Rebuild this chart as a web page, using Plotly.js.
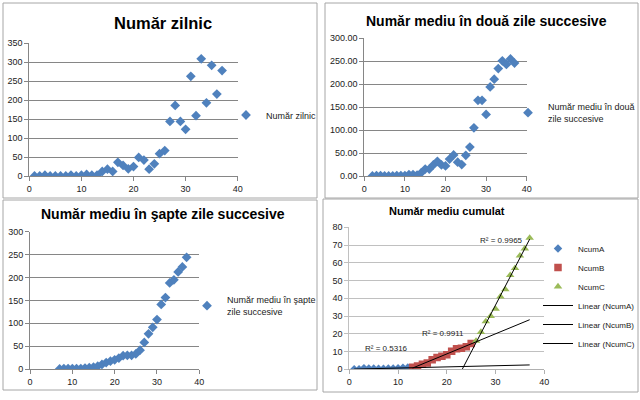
<!DOCTYPE html>
<html>
<head>
<meta charset="utf-8">
<script src="https://cdn.plot.ly/plotly-3.0.1.min.js"></script>
<style>
  body { margin: 0; background: #fff; }
  #chart { width: 640px; height: 400px; }
</style>
</head>
<body>
<div id="chart"></div>
<script>
// daily counts, day 1..37
const dayX = [1,2,3,4,5,6,7,8,9,10,11,12,13,14,15,16,17,18,19,20,21,22,23,24,25,26,27,28,29,30,31,32,33,34,35,36,37];
const dailyCount = [0,0,2,0,0,0,0,2,0,2,4,2,2,12,18,12,36,28,19,25,49,42,18,32,59,67,144,186,144,123,263,159,309,193,292,216,278];

// two-day average, day 2..37
const twoDayX = [2,3,4,5,6,7,8,9,10,11,12,13,14,15,16,17,18,19,20,21,22,23,24,25,26,27,28,29,30,31,32,33,34,35,36,37];
const twoDayAvg = [0,1,1,0,0,0,1,1,1,3,3,2,7,15,15,24,32,24,22,37,46,30,25,45,63,105,165,165,134,194,211,234,251,243,255,246];

// seven-day average, day 7..37
const sevenDayX = [7,8,9,10,11,12,13,14,15,16,17,18,19,20,21,22,23,24,25,26,27,28,29,30,31,32,33,34,35,36,37];
const sevenDayAvg = [0,1,1,1,1,1,2,3,4,6,10,14,17,20,24,29,30,30,33,41,58,77,91,108,141,156,188,195,212,223,244];

// cumulative average, split in three phases
const ncumAX = [1,2,3,4,5,6,7,8,9,10,11,12];
const ncumA = [0,0,0.67,0.5,0.4,0.33,0.29,0.5,0.44,0.6,0.91,1.0];
const ncumBX = [13,14,15,16,17,18,19,20,21,22,23,24,25];
const ncumB = [1.1,1.9,2.9,3.5,5.4,6.7,7.3,8.2,10.1,11.6,11.9,12.7,14.6];
const ncumCX = [26,27,28,29,30,31,32,33,34,35,36,37];
const ncumC = [16,21,27,30,34,41,45,53,57,64,68,74];
const r2Labels = ['R² = 0.5316', 'R² = 0.9911', 'R² = 0.9965'];

const FONT = 'Liberation Sans, Arial, sans-serif';
const BLUE = '#4f81bd', RED = '#c0504d', GREEN = '#9bbb59';

// least squares fit, drawn from x0 to x1
function linFit(xs, ys, x0, x1) {
  let n = xs.length, sx = 0, sy = 0, sxx = 0, sxy = 0;
  for (let i = 0; i < n; i++) {
    sx += xs[i]; sy += ys[i];
    sxx += xs[i]*xs[i]; sxy += xs[i]*ys[i];
  }
  const b = (n*sxy - sx*sy) / (n*sxx - sx*sx);
  const a = (sy - b*sx) / n;
  return { x: [x0, x1], y: [a + b*x0, a + b*x1] };
}

function xAx(dom, anchor, grid) {
  return { domain: dom, anchor: anchor, range: [0, 40], dtick: 10, showgrid: false,
    showline: true, linecolor: grid, ticks: 'outside', ticklen: 4, tickcolor: grid,
    zeroline: false, tickfont: {family: FONT, size: 9, color: '#222'} };
}
function yAx(dom, anchor, max, step, grid, fmt) {
  return { domain: dom, anchor: anchor, range: [0, max], dtick: step, showgrid: true,
    gridcolor: grid, showline: true, linecolor: grid, ticks: 'outside', ticklen: 4,
    tickcolor: grid, zeroline: false, tickformat: fmt || '',
    tickfont: {family: FONT, size: 9, color: '#222'} };
}

const fitA = linFit(ncumAX, ncumA, 1, 37);
const fitB = linFit(ncumBX, ncumB, 13, 37);
const fitC = linFit(ncumCX, ncumC, 23, 37);

const data = [
  { x: dayX, y: dailyCount, type: 'scatter', mode: 'markers', name: 'Număr zilnic',
    xaxis: 'x', yaxis: 'y', legend: 'legend', showlegend: true,
    marker: {symbol: 'diamond', size: 7.5, color: BLUE} },
  { x: twoDayX, y: twoDayAvg, type: 'scatter', mode: 'markers', name: 'Număr mediu în două<br>zile succesive',
    xaxis: 'x2', yaxis: 'y2', legend: 'legend2',
    marker: {symbol: 'diamond', size: 7.5, color: BLUE} },
  { x: sevenDayX, y: sevenDayAvg, type: 'scatter', mode: 'markers', name: 'Număr mediu în şapte<br>zile succesive',
    xaxis: 'x3', yaxis: 'y3', legend: 'legend3',
    marker: {symbol: 'diamond', size: 7.5, color: BLUE} },
  { x: ncumAX, y: ncumA, type: 'scatter', mode: 'markers', name: 'NcumA',
    xaxis: 'x4', yaxis: 'y4', legend: 'legend4',
    marker: {symbol: 'diamond', size: 6.5, color: BLUE} },
  { x: ncumBX, y: ncumB, type: 'scatter', mode: 'markers', name: 'NcumB',
    xaxis: 'x4', yaxis: 'y4', legend: 'legend4',
    marker: {symbol: 'square', size: 7.5, color: RED} },
  { x: ncumCX, y: ncumC, type: 'scatter', mode: 'markers', name: 'NcumC',
    xaxis: 'x4', yaxis: 'y4', legend: 'legend4',
    marker: {symbol: 'triangle-up', size: 7.5, color: GREEN} },
  { x: fitA.x, y: fitA.y, type: 'scatter', mode: 'lines', name: 'Linear (NcumA)',
    xaxis: 'x4', yaxis: 'y4', legend: 'legend4', line: {color: '#000', width: 1} },
  { x: fitB.x, y: fitB.y, type: 'scatter', mode: 'lines', name: 'Linear (NcumB)',
    xaxis: 'x4', yaxis: 'y4', legend: 'legend4', line: {color: '#000', width: 1} },
  { x: fitC.x, y: fitC.y, type: 'scatter', mode: 'lines', name: 'Linear (NcumC)',
    xaxis: 'x4', yaxis: 'y4', legend: 'legend4', line: {color: '#000', width: 1} }
];

function frame(l, t, r, b) {
  return { type: 'rect', xref: 'paper', yref: 'paper', x0: l/640, x1: r/640,
    y0: 1 - b/400, y1: 1 - t/400, line: {color: '#a6a6a6', width: 1} };
}
function title(txt, cx, cy, size) {
  return { text: '<b>' + txt + '</b>', xref: 'paper', yref: 'paper', x: cx/640, y: 1 - cy/400,
    xanchor: 'center', yanchor: 'middle', showarrow: false,
    font: {family: FONT, size: size, color: '#000'} };
}
function r2(txt, x, y) {
  return { text: txt, xref: 'x4', yref: 'y4', x: x, y: y, showarrow: false,
    font: {family: FONT, size: 8, color: '#222'} };
}
function leg(x, y, size, anchor) {
  return { x: x/640, y: 1 - y/400, xanchor: anchor || 'left', yanchor: 'middle',
    bgcolor: 'rgba(0,0,0,0)', font: {family: FONT, size: size, color: '#222'} };
}

const layout = {
  width: 640, height: 400,
  margin: {l: 0, r: 0, t: 0, b: 0},
  showlegend: true,
  paper_bgcolor: '#fff', plot_bgcolor: '#fff',
  xaxis: xAx([29.3/640, 237.7/640], 'y', '#868686'),
  yaxis: yAx([1 - 176/400, 1 - 43.3/400], 'x', 350, 50, '#868686'),
  xaxis2: xAx([364.3/640, 526.7/640], 'y2', '#868686'),
  yaxis2: yAx([1 - 176/400, 1 - 38.3/400], 'x2', 300, 50, '#868686', '.2f'),
  xaxis3: xAx([30/640, 199.3/640], 'y3', '#868686'),
  yaxis3: yAx([1 - 369/400, 1 - 231.7/400], 'x3', 300, 50, '#868686'),
  xaxis4: xAx([349.3/640, 544.3/640], 'y4', '#b0b0b0'),
  yaxis4: yAx([1 - 369.3/400, 1 - 227.3/400], 'x4', 80, 10, '#c0c0c0'),
  legend: leg(226, 115, 9),
  legend2: leg(640, 113, 9, 'right'),
  legend3: leg(187, 306, 9),
  legend4: leg(640, 296, 8, 'right'),
  shapes: [frame(3, 3, 317, 198), frame(325, 3, 638, 198), frame(3, 200, 317, 390), frame(323, 199, 638, 392)],
  annotations: [
    title('Număr zilnic', 163, 23, 16.5),
    title('Număr mediu în două zile succesive', 486, 21, 14),
    title('Număr mediu în şapte zile succesive', 162.5, 214, 14),
    title('Număr mediu cumulat', 447, 211, 11),
    r2(r2Labels[0], 7.7, 11.8),
    r2(r2Labels[1], 19.3, 20.3),
    r2(r2Labels[2], 31.3, 72.8)
  ]
};

Plotly.newPlot('chart', data, layout, {displayModeBar: false, staticPlot: true});
</script>
</body>
</html>
